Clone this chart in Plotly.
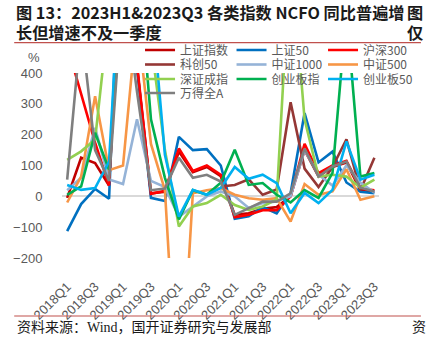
import plotly.graph_objects as go

quarters = ["2018Q1","2018Q2","2018Q3","2018Q4","2019Q1","2019Q2","2019Q3","2019Q4",
            "2020Q1","2020Q2","2020Q3","2020Q4","2021Q1","2021Q2","2021Q3","2021Q4",
            "2022Q1","2022Q2","2022Q3","2022Q4","2023Q1","2023Q2","2023Q3"]

sz_index   = [-5, 125, 108, 35, 900, 420, 10, 15, 145, 78, 95, 65, -60, -55, -40, -35, 0, 150, 65, 95, 110, 20, 15]
sz50       = [-113, -25, 24, -8, 1100, 420, -5, -15, 193, 150, 153, 100, -73, -65, -35, -55, 10, 270, 110, 145, 45, 15, 10]
hs300      = [490, 332, 174, 35, 900, 430, 8, 18, 155, 82, 100, 70, -68, -60, -45, -45, 0, 170, 75, 100, 115, 25, 20]
kc50       = [None]*11 + [32, 37, 55, 5, 22, 305, 90, 30, 95, 185, 20, 125]
zz1000     = [20, 60, 222, 55, 40, 250, 50, 30, -66, -33, 0, 16, 0, -38, -22, -17, 0, 150, 70, 35, 100, 45, 12]
zz500      = [-20, 64, 325, 85, 100, 580, 170, 20, -750, 10, 20, 27, 5, -6, -11, -6, -82, 40, 5, 16, 88, -11, 0]
szcz       = [118, 146, 184, 600, 700, 600, 500, 150, -98, -33, -22, 5, -28, -44, -33, -10, 800, 250, 64, 70, 64, 28, 54]
cyb        = [5, 32, 206, 86, 700, 800, 250, 60, -75, 20, 5, 44, 151, 37, 43, 5, -20, 20, -5, 76, 600, 64, 76]
cyb50      = [37, 21, 27, 113, 900, 800, 650, 135, -66, 21, 5, 27, 95, 57, 70, 43, -55, 11, -22, 21, 178, 54, 70]
wind_a     = [54, 550, 150, 50, 680, 340, 20, 25, 125, 60, 70, 48, -60, -38, -17, -17, 10, 155, 64, 97, 113, 28, 16]

series = [
    ("上证指数", sz_index, "#C00000", "legend"),
    ("上证50",   sz50,     "#0070C0", "legend"),
    ("沪深300",  hs300,    "#FF0000", "legend"),
    ("科创50",   kc50,     "#953735", "legend2"),
    ("中证1000", zz1000,   "#95B3D7", "legend2"),
    ("中证500",  zz500,    "#F79646", "legend2"),
    ("深证成指", szcz,     "#92D050", "legend3"),
    ("创业板指", cyb,      "#00B050", "legend3"),
    ("创业板50", cyb50,    "#00B0F0", "legend3"),
    ("万得全A",  wind_a,   "#7F7F7F", "legend4"),
]

fig = go.Figure()
for name, vals, color, lg in series:
    fig.add_trace(go.Scatter(x=quarters, y=vals, name=name, mode="lines",
                             line=dict(color=color, width=2.6), legend=lg))

W, H = 427, 339
L, R, T, B = 62, 40, 73, 81
pw, ph = W - L - R, H - T - B

def px2paper_y(py):
    return (H - B - py) / ph

def px2paper_x(px):
    return (px - L) / pw

legend_font = dict(family="Noto Sans CJK SC, Liberation Sans, sans-serif", size=12, color="#595959")
row_y = [50, 64.5, 79, 93]
leg_common = dict(orientation="h", xanchor="left", yanchor="middle", bgcolor="rgba(0,0,0,0)",
                  font=legend_font, entrywidth=46.5, entrywidthmode="pixels", borderwidth=0,
                  itemwidth=30, traceorder="normal")
legs = {}
for i, key in enumerate(["legend", "legend2", "legend3", "legend4"]):
    legs[key] = dict(x=px2paper_x(142), y=px2paper_y(row_y[i]), **leg_common)

fig.update_layout(
    width=W, height=H,
    margin=dict(l=L, r=R, t=T, b=B, pad=0),
    paper_bgcolor="white", plot_bgcolor="white",
    showlegend=True,
    **legs,
    xaxis=dict(type="category", range=[-0.37, 22.33], tickmode="array", tickvals=quarters[::2],
               ticktext=quarters[::2], tickangle=-45, showgrid=False, showline=False, zeroline=False,
               ticks="outside", ticklen=15, tickcolor="rgba(0,0,0,0)",
               tickfont=dict(family="Liberation Sans, Arial, sans-serif", size=13, color="#595959")),
    yaxis=dict(range=[-200, 400], tickvals=[-200, -100, 0, 100, 200, 300, 400],
               showgrid=False, zeroline=True, zerolinecolor="#D9D9D9", zerolinewidth=1.5,
               showline=False, ticks="outside", ticklen=16, tickcolor="rgba(0,0,0,0)",
               tickfont=dict(family="Liberation Sans, Arial, sans-serif", size=13, color="#595959")),
    font=dict(family="Noto Sans CJK SC, sans-serif"),
)

title_font = dict(family="Noto Sans CJK SC, sans-serif", size=16.2, color="#1A1A1A")
annos = [
    dict(text="<b>图 13：2023H1&2023Q3 各类指数 NCFO 同比普遍增</b>", x=13, y=12),
    dict(text="<b>长但增速不及一季度</b>", x=13, y=32),
    dict(text="<b>图</b>", x=414, y=12),
    dict(text="<b>仅</b>", x=414, y=32),
]
for a in annos:
    fig.add_annotation(text=a["text"], xref="paper", yref="paper",
                       x=(a["x"] - L) / pw, y=px2paper_y(a["y"]), xanchor="left", yanchor="middle",
                       showarrow=False, font=title_font)

fig.add_annotation(text="%", xref="paper", yref="paper", x=px2paper_x(33), y=px2paper_y(58),
                   xanchor="center", yanchor="middle", showarrow=False,
                   font=dict(family="Liberation Sans, Arial, sans-serif", size=13, color="#595959"))

src_font = dict(family="Liberation Serif, Noto Sans CJK SC, serif", size=14, color="#1A1A1A")
fig.add_annotation(text="资料来源：Wind，国开证券研究与发展部", xref="paper", yref="paper",
                   x=px2paper_x(14), y=px2paper_y(327), xanchor="left", yanchor="middle",
                   showarrow=False, font=src_font)
fig.add_annotation(text="资", xref="paper", yref="paper",
                   x=px2paper_x(419), y=px2paper_y(327), xanchor="left", yanchor="middle",
                   showarrow=False, font=src_font)

for py in [42.7, 316]:
    fig.add_shape(type="line", xref="paper", yref="paper",
                  x0=px2paper_x(13), x1=px2paper_x(430), y0=px2paper_y(py), y1=px2paper_y(py),
                  line=dict(color="#C0504D", width=1.2))

fig.write_html("out.html")
